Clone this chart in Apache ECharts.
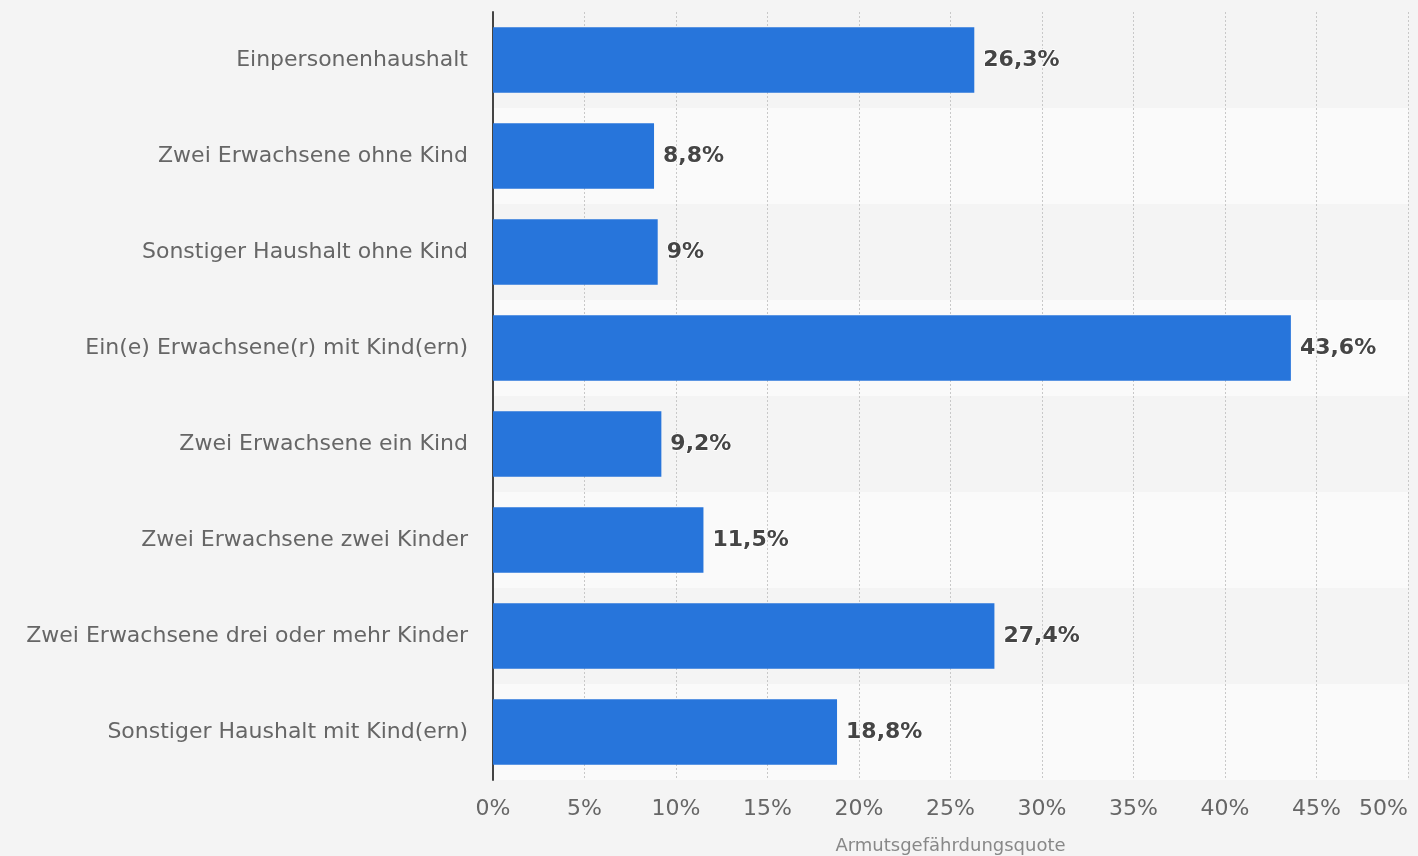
<!DOCTYPE html>
<html><head><meta charset="utf-8">
<script src="https://cdn.jsdelivr.net/npm/echarts@6/dist/echarts.min.js"></script>
<style>html,body{margin:0;padding:0;background:#f4f4f4}#c{width:1418px;height:856px}</style>
</head><body><div id="c"></div>
<script>
const categories = ["Einpersonenhaushalt","Zwei Erwachsene ohne Kind","Sonstiger Haushalt ohne Kind","Ein(e) Erwachsene(r) mit Kind(ern)","Zwei Erwachsene ein Kind","Zwei Erwachsene zwei Kinder","Zwei Erwachsene drei oder mehr Kinder","Sonstiger Haushalt mit Kind(ern)"];
const values = [26.3, 8.8, 9, 43.6, 9.2, 11.5, 27.4, 18.8];
const axisName = "Armutsgefährdungsquote";
const fmt = v => String(v).replace('.', ',') + '%';
const chart = echarts.init(document.getElementById('c'));
chart.setOption({
  backgroundColor: '#f4f4f4',
  textStyle: {fontFamily: 'DejaVu Sans'},
  grid: {left: 493, right: 10, top: 12, bottom: 76, containLabel: false, outerBoundsMode: 'none'},
  xAxis: {
    type: 'value', min: 0, max: 50, interval: 5,
    axisLine: {show: false}, axisTick: {show: false},
    splitLine: {show: true, lineStyle: {color: '#c8c8c8', type: [2, 2], width: 1}},
    axisLabel: {formatter: v => v + '%', color: '#666', fontSize: 22, margin: 18, alignMaxLabel: 'right'},
    name: axisName, nameLocation: 'middle', nameGap: 57,
    nameTextStyle: {color: '#888', fontSize: 18}
  },
  yAxis: {
    type: 'category', data: categories, inverse: true,
    axisLine: {show: true, lineStyle: {color: '#444', width: 2}},
    axisTick: {show: false},
    axisLabel: {color: '#666', fontSize: 22, margin: 25},
    splitArea: {show: true, areaStyle: {color: ['#f4f4f4', '#fafafa']}}
  },
  series: [{
    type: 'bar', data: values, barCategoryGap: '32%',
    itemStyle: {color: '#2775db'},
    label: {show: true, position: 'right', distance: 9, formatter: p => fmt(p.value),
      fontWeight: 'bold', fontSize: 22, color: '#454545', textBorderColor: '#fff', textBorderWidth: 1.5}
  }]
});
</script></body></html>
